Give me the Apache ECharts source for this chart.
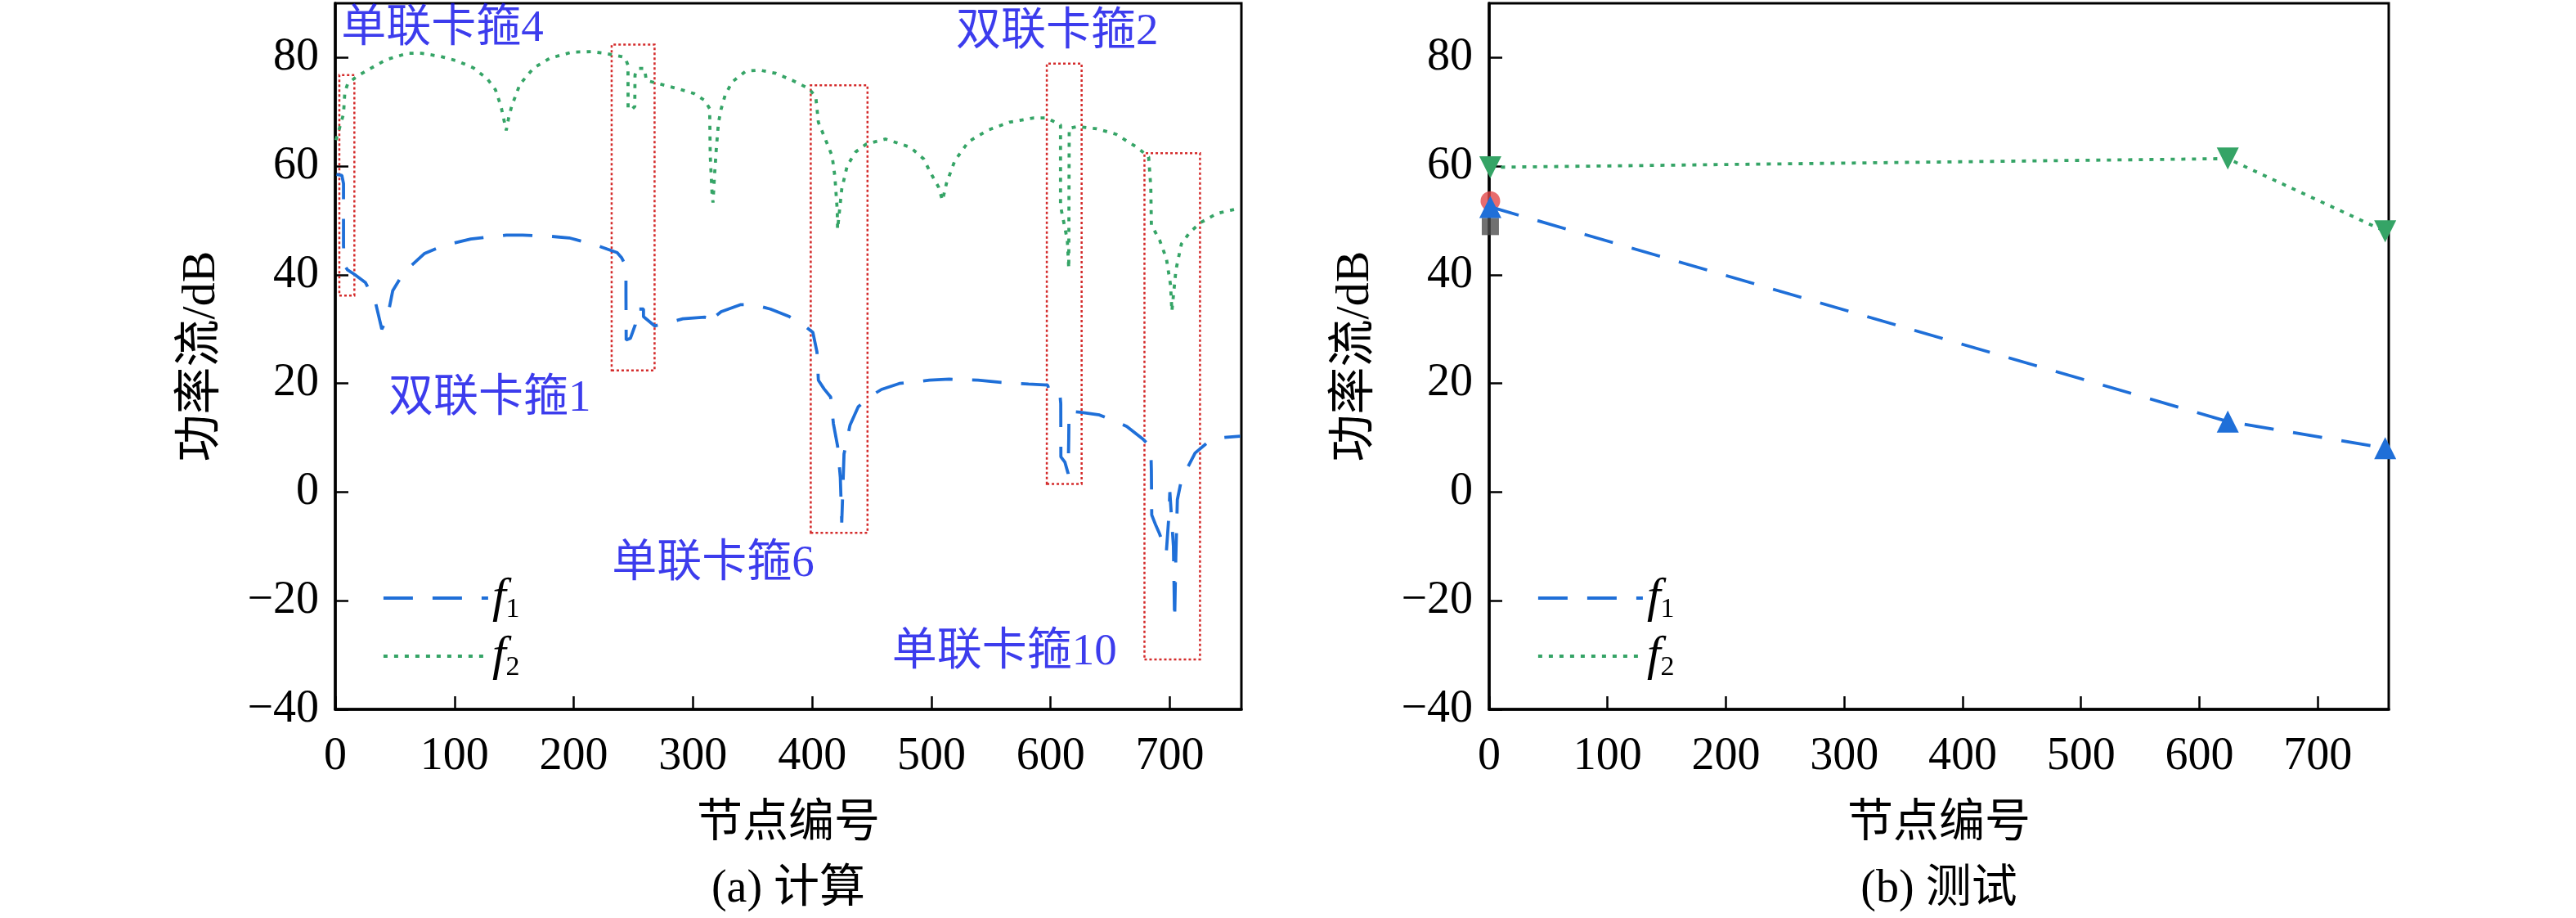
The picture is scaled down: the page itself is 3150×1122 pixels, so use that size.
<!DOCTYPE html>
<html>
<head>
<meta charset="utf-8">
<title>功率流</title>
<script src="https://cdn.jsdelivr.net/npm/echarts@6/dist/echarts.min.js"></script>
<style>
  html, body { margin: 0; padding: 0; background: #fff; }
  #chart { width: 3150px; height: 1122px; }
</style>
</head>
<body>
<div id="chart"></div>
<script>
// 计算结果 (a)：节点编号, 功率流 dB
const f1Calc = [
  [1,58.5],[5.5,58.3],[6.9,56.8],[6.9,45.4],[7.6,41.8],[10.3,40.9],[16,40.1],[25.2,38.6],
  [33.3,35.3],[39,30],[43.6,32],[48.2,37.1],[57.4,40.4],[74.6,43.9],[90.7,45.4],[113.6,46.6],
  [143.4,47.3],[157.2,47.3],[180.2,47.1],[196.2,46.8],[216.9,45.6],[236.4,44.1],[240,43.2],
  [243.8,41.6],[243.8,36.3],[244,28],[247.5,28.3],[251.6,30.8],[251.6,33.7],[258.5,33.7],
  [258.5,32.3],[267.8,30.6],[291.5,31.9],[309.9,32.2],[314,32],[316.8,31],[319,32.4],
  [323.6,33.2],[339.7,34.5],[351.2,34.5],[365,33.7],[381,32.3],[392.5,30.8],[400.6,29.4],
  [404,25.8],[405.2,20.6],[410,19],[415.5,17.5],[417.8,12.6],[421.3,8.5],[423.6,2.7],
  [424.8,-5.6],[426.7,7],[431.7,12.3],[438.6,15.7],[447.8,17.5],[458.1,18.9],[473.1,20],
  [498.3,20.6],[515,20.8],[539.1,20.6],[558.6,20.2],[581.5,19.9],[597.5,19.7],[599.8,18],
  [607.8,18],[608.5,16.3],[608.6,6.5],[612,5.5],[614.7,3.4],[615.2,10],[615.4,14.9],
  [625,14.7],[641,14.2],[663.9,12.1],[677.7,9.7],[684,8.3],[684.5,4],[684.8,-4.2],[688,-6],
  [691.4,-7.7],[697,-11.2],[699,-5],[700,0],[701.5,-5],[703,-10],[704,-23.7],[705,-12],
  [706.3,-1.4],[709,1.5],[713.2,3.8],[721.2,7.2],[732.6,9.3],[741.8,10],[759,10.3]
]
const f2Calc = [
  [0.5,64.8],[3.5,67],[6.9,69.6],[8,73.6],[10.3,75.1],[17.2,76.4],[26.4,77.6],[42.5,79.6],
  [60.8,80.8],[72.3,80.8],[88.4,80.2],[102.1,79.4],[115.9,78.1],[127.4,76.1],[134.3,74.1],
  [138.9,71.1],[141.5,68.5],[143.4,66.6],[145.5,69],[148,71.1],[154.9,75.1],[166.4,78.1],
  [180.2,79.9],[198.5,81],[214.6,81.1],[226,80.8],[239.8,80.2],[243,80],[245.5,78.6],
  [245.6,70.8],[248,70.3],[251.2,71],[251.4,76.8],[254.2,78],[259.3,78],[260.9,75.8],
  [267.8,75.4],[286.9,74.3],[300.7,73.4],[310,72.1],[314,70.6],[314.5,62],[316,55],
  [316.8,53.3],[318,58],[319.5,63],[321.4,68],[323.6,70.5],[327,73.1],[332.8,75.5],
  [344.3,77.5],[355.8,77.7],[369.6,77.1],[383.4,75.8],[397.2,74.3],[403,72.8],[405.2,68.1],
  [411,65],[416.7,61.9],[419,58.2],[421,52],[421.3,48.4],[423,52],[424.8,55.8],[429.4,60.1],
  [436.3,62.6],[445.5,64.1],[461.6,65],[482.3,63.5],[493.7,61.3],[499,58.9],[505.9,56.2],
  [509.3,53.7],[512.7,56.9],[519.6,61],[531,64.5],[547,66.6],[565.4,68.1],[586,68.9],
  [596.8,68.9],[602,68.3],[608.3,67.6],[608.3,52.7],[614,46.4],[615.2,41.2],[615.4,55],
  [615.6,67],[622.7,67.3],[638.7,66.9],[654.8,65.9],[673,63.4],[682.2,61.7],[684,56.2],
  [684.5,49.2],[691.4,46.4],[697.1,43],[700.6,38.1],[701.7,33.3],[705.1,40.9],[709.7,45.7],
  [716.6,47.8],[725.7,49.6],[739.5,51.3],[759,52.3]
]
// 卡箍区域框：[x起, y下, x止, y上]
const clampBoxes = [
  [3.4,36.2,16,76.8],
  [231.8,22.4,267.8,82.4],
  [398.8,-7.5,446.4,74.9],
  [596.8,1.5,626,78.9],
  [678.7,-30.8,725.3,62.4]
]
// 卡箍标注：[文字, x, y]
const clampLabels = [
  ['单联卡箍4', 5, 85.3],
  ['双联卡箍2', 520.6, 84.7],
  ['双联卡箍1', 44.6, 17.2],
  ['单联卡箍6', 232, -13.3],
  ['单联卡箍10', 467, -29.6]
]

// 测试结果 (b)
const testNodes = [1, 624, 757]
const f1Test = [52.5, 13, 8.1]
const f2Test = [59.8, 61.4, 48]
const redPoint = [[1, 53.6]]
const greyPoint = [[1, 48.9]]

const seriesNames = ['f1', 'f2']
const captions = ['(a) 计算', '(b) 测试']

const BLUE = '#1f6fd8'
const GREEN = '#35a466'
const SERIF = "'Liberation Serif', 'Noto Sans CJK SC', serif"

// 两个子图的位置
const grids = [
  {left: 410, top: 4, width: 1108, height: 863},
  {left: 1821, top: 4, width: 1100, height: 863}
]

const blueLine = {color: BLUE, width: 3.8, type: [36, 24], cap: 'butt'}
const greenLine = {color: GREEN, width: 3.8, type: [5, 8], cap: 'butt'}
const lineStyles = {f1: blueLine, f2: greenLine}

function zip(xs, ys){
  return xs.map((x, i) => [x, ys[i]])
}

function makeXAxis(gridIndex){
  return {
    type: 'value', gridIndex, min: 0, max: 760, interval: 100,
    name: '节点编号', nameLocation: 'middle', nameGap: 112,
    nameTextStyle: {fontFamily: SERIF, fontSize: 56, color: '#000'},
    axisLine: {onZero: false, lineStyle: {color: '#000', width: 3.5}},
    axisTick: {inside: true, length: 16, lineStyle: {color: '#000', width: 2.5}},
    axisLabel: {margin: 30, fontFamily: SERIF, fontSize: 56, color: '#000', showMaxLabel: false},
    splitLine: {show: false}
  }
}

function makeYAxis(gridIndex){
  return {
    type: 'value', gridIndex, min: -40, max: 90, interval: 20,
    name: '功率流/dB', nameLocation: 'middle', nameGap: 134, nameRotate: 90,
    nameTextStyle: {fontFamily: SERIF, fontSize: 58, color: '#000'},
    axisLine: {onZero: false, lineStyle: {color: '#000', width: 3.5}},
    axisTick: {inside: true, length: 16, lineStyle: {color: '#000', width: 2.5}},
    axisLabel: {
      margin: 20, fontFamily: SERIF, fontSize: 56, color: '#000', showMaxLabel: false,
      formatter: v => v < 0 ? '\u2212' + (-v) : String(v)
    },
    splitLine: {show: false}
  }
}

function makeLegend(left){
  return {
    // 图例只画线，不画点
    data: seriesNames.map(name => ({
      name, itemStyle: {opacity: 0}, lineStyle: Object.assign({}, lineStyles[name])
    })),
    orient: 'vertical', left, top: 696,
    itemWidth: 128, itemHeight: 20, itemGap: 10,
    formatter: name => '{i|f}{s|' + name.slice(1) + '}',
    textStyle: {
      rich: {
        i: {fontFamily: SERIF, fontStyle: 'italic', fontSize: 60, color: '#000'},
        s: {fontFamily: SERIF, fontSize: 34, color: '#000', padding: [28, 0, 0, 0]}
      }
    },
    selectedMode: false
  }
}

const chart = echarts.init(document.getElementById('chart'))

chart.setOption({
  animation: false,
  backgroundColor: '#fff',
  grid: grids.map(g => Object.assign({show: true, borderColor: '#000', borderWidth: 3}, g)),
  xAxis: [makeXAxis(0), makeXAxis(1)],
  yAxis: [makeYAxis(0), makeYAxis(1)],
  legend: [makeLegend(462), makeLegend(1874)],
  graphic: captions.map((text, i) => ({
    type: 'text',
    x: grids[i].left + grids[i].width / 2,
    y: 1087,
    style: {text, fontFamily: SERIF, fontSize: 56, fill: '#000', align: 'center', verticalAlign: 'middle'}
  })),
  series: [
    {
      name: 'f1', type: 'line', xAxisIndex: 0, yAxisIndex: 0,
      data: f1Calc, symbol: 'none', showSymbol: false,
      lineStyle: blueLine, itemStyle: {color: BLUE},
      markArea: {
        silent: true,
        itemStyle: {color: 'rgba(0,0,0,0)', borderColor: '#d42b2b', borderWidth: 2.5, borderType: [3, 3]},
        data: clampBoxes.map(b => [{coord: [b[0], b[1]]}, {coord: [b[2], b[3]]}])
      }
    },
    {
      name: 'f2', type: 'line', xAxisIndex: 0, yAxisIndex: 0,
      data: f2Calc, symbol: 'none', showSymbol: false,
      lineStyle: greenLine, itemStyle: {color: GREEN}
    },
    {
      // 卡箍文字标注
      type: 'scatter', xAxisIndex: 0, yAxisIndex: 0, silent: true,
      symbolSize: 0,
      data: clampLabels.map(l => ({value: [l[1], l[2]], name: l[0]})),
      label: {
        show: true, position: 'right', distance: 0,
        formatter: p => p.name,
        fontFamily: SERIF, fontSize: 55, color: '#0b0be8'
      }
    },
    {
      type: 'scatter', xAxisIndex: 1, yAxisIndex: 1, data: redPoint,
      symbol: 'circle', symbolSize: 24, itemStyle: {color: '#e2474a'}
    },
    {
      type: 'scatter', xAxisIndex: 1, yAxisIndex: 1, data: greyPoint,
      symbol: 'rect', symbolSize: 21, itemStyle: {color: '#4d4d4d', borderRadius: 3}
    },
    {
      name: 'f1', type: 'line', xAxisIndex: 1, yAxisIndex: 1,
      data: zip(testNodes, f1Test), symbol: 'triangle', symbolSize: 27,
      lineStyle: blueLine, itemStyle: {color: BLUE}
    },
    {
      name: 'f2', type: 'line', xAxisIndex: 1, yAxisIndex: 1,
      data: zip(testNodes, f2Test), symbol: 'triangle', symbolRotate: 180, symbolSize: 27,
      lineStyle: greenLine, itemStyle: {color: GREEN}
    }
  ]
})
</script>
</body>
</html>
